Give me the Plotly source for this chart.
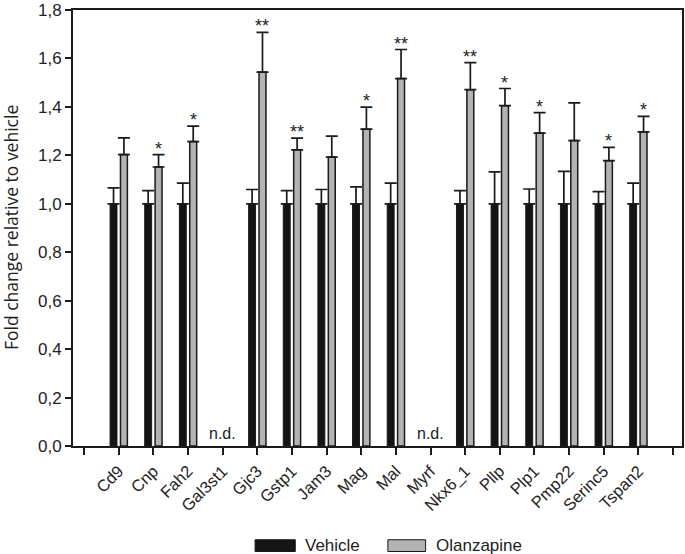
import plotly.graph_objects as go

genes = ["Cd9", "Cnp", "Fah2", "Gal3st1", "Gjc3", "Gstp1", "Jam3", "Mag", "Mal",
         "Myrf", "Nkx6_1", "Pllp", "Plp1", "Pmp22", "Serinc5", "Tspan2"]
vehicle = [1.0, 1.0, 1.0, None, 1.0, 1.0, 1.0, 1.0, 1.0, None, 1.0, 1.0, 1.0, 1.0, 1.0, 1.0]
vehicle_err = [0.066, 0.054, 0.085, None, 0.059, 0.054, 0.059, 0.070, 0.085, None,
               0.054, 0.132, 0.061, 0.134, 0.050, 0.085]
olanzapine = [1.203, 1.152, 1.257, None, 1.544, 1.223, 1.193, 1.308, 1.517, None,
              1.471, 1.405, 1.292, 1.261, 1.178, 1.297]
olanzapine_err = [0.069, 0.051, 0.064, None, 0.164, 0.048, 0.086, 0.091, 0.120, None,
                  0.112, 0.071, 0.084, 0.156, 0.055, 0.064]
significance = ["", "*", "*", "", "**", "**", "", "*", "**", "", "**", "*", "*", "", "*", "*"]
not_detected = ["Gal3st1", "Myrf"]
y_ticks = [0.0, 0.2, 0.4, 0.6, 0.8, 1.0, 1.2, 1.4, 1.6, 1.8]

idx = list(range(len(genes)))
off = 0.15
bw = 0.2
dark = "#1a1a1a"
FONT = "Liberation Sans, Arial"

fig = go.Figure()
fig.add_trace(go.Bar(
    x=[i - off for i in idx], y=vehicle, width=bw, name="Vehicle",
    marker=dict(color="#141414", line=dict(color=dark, width=1)),
    error_y=dict(type="data", array=vehicle_err, symmetric=False,
                 arrayminus=[0] * len(idx), color=dark, thickness=1.7, width=6),
    showlegend=False))
fig.add_trace(go.Bar(
    x=[i + off for i in idx], y=olanzapine, width=bw, name="Olanzapine",
    marker=dict(color="#b3b3b3", line=dict(color=dark, width=1.5)),
    error_y=dict(type="data", array=olanzapine_err, symmetric=False,
                 arrayminus=[0] * len(idx), color=dark, thickness=1.7, width=6),
    showlegend=False))

# significance stars
for i, s in enumerate(significance):
    if s and olanzapine[i] is not None:
        fig.add_annotation(x=i + off, y=olanzapine[i] + olanzapine_err[i], text=s,
                           showarrow=False, yanchor="bottom", yshift=-6,
                           font=dict(family=FONT, size=18, color="#222"))
# n.d. labels
for g in not_detected:
    fig.add_annotation(x=genes.index(g), y=0, text="n.d.", showarrow=False,
                       yanchor="bottom", yshift=2,
                       font=dict(family=FONT, size=16, color="#222"))

# y-axis title
fig.add_annotation(xref="paper", yref="paper", x=0, y=0.5, xshift=-62,
                   text="Fold change relative to vehicle", textangle=-90,
                   showarrow=False, xanchor="center", yanchor="middle",
                   font=dict(family="Open Sans, Noto Sans", size=17.5, color="#222"))

# legend (manual)
leg_items = [("Vehicle", "#141414", 0.299, 0.365), ("Olanzapine", "#b3b3b3", 0.517, 0.579)]
for name, col, x0, x1 in leg_items:
    fig.add_shape(type="rect", xref="paper", yref="paper", x0=x0, x1=x1,
                  y0=-0.242, y1=-0.215, fillcolor=col, line=dict(color=dark, width=1))
    fig.add_annotation(xref="paper", yref="paper", x=x1 + 0.013, y=-0.2285, text=name,
                       showarrow=False, xanchor="left", yanchor="middle",
                       font=dict(family=FONT, size=17, color="#222"))

tickvals = [-1] + idx + [len(idx)]
ticktext = [""] + genes + [""]

fig.update_layout(
    width=685, height=554,
    margin=dict(l=73, r=3, t=10, b=108),
    paper_bgcolor="white", plot_bgcolor="white",
    barmode="overlay",
    font=dict(family=FONT, size=16, color="#222"),
    xaxis=dict(range=[-1.32, len(idx) + 0.26], tickvals=tickvals, ticktext=ticktext,
               tickangle=-45, ticks="outside", ticklen=7, tickwidth=1.5, tickcolor=dark,
               showline=True, linecolor=dark, linewidth=2, mirror=True,
               showgrid=False, zeroline=False, automargin=False,
               tickfont=dict(family=FONT, size=16.5, color="#222")),
    yaxis=dict(range=[0, 1.8001], tickvals=y_ticks,
               ticktext=[f"{v:.1f}".replace(".", ",") for v in y_ticks],
               ticks="outside", ticklen=6, tickwidth=1.5, tickcolor=dark,
               showline=True, linecolor=dark, linewidth=2, mirror=True,
               showgrid=False, zeroline=False, automargin=False,
               ticklabeloverflow="allow",
               tickfont=dict(family=FONT, size=17, color="#222")),
)

fig.write_html("out.html", config={"displayModeBar": False},
               post_script="document.body.style.margin='0';")
